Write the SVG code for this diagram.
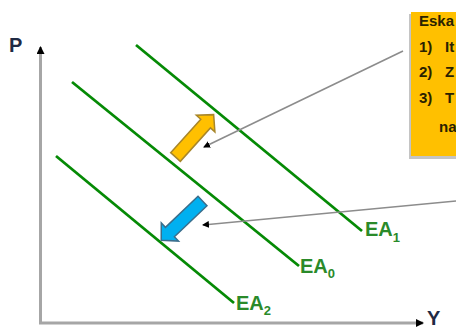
<svg xmlns="http://www.w3.org/2000/svg" width="456" height="329" viewBox="0 0 456 329">
  <style>
    .axis { stroke: #a6a6a6; stroke-width: 3; fill: none; }
    .curve { stroke: #058a05; stroke-width: 2.8; fill: none; }
    .lbl { font-family: "Liberation Sans", Arial, sans-serif; font-weight: bold; fill: #2a8a2a; }
    .ax { font-family: "Liberation Sans", Arial, sans-serif; font-weight: bold; fill: #1f2a44; font-size: 20px; }
    .note { font-family: "Liberation Sans", Arial, sans-serif; font-weight: bold; fill: #2a2200; font-size: 15px; }
    .conn { stroke: #8c8c8c; stroke-width: 1.6; fill: none; }
  </style>
  <defs>
    <marker id="axArrow" markerUnits="userSpaceOnUse" markerWidth="8" markerHeight="8" viewBox="0 0 8 8" refX="7" refY="4" orient="auto">
      <path d="M0,0 L8,4 L0,8 Z" fill="#000"/>
    </marker>
    <marker id="cArrow" markerUnits="userSpaceOnUse" markerWidth="7" markerHeight="7" viewBox="0 0 7 7" refX="6" refY="3.5" orient="auto">
      <path d="M0,0 L7,3.5 L0,7 Z" fill="#000"/>
    </marker>
    <polygon id="blockArrow" points="0,-6.5 45,-6.5 45,-12.5 57,0 45,12.5 45,6.5 0,6.5"/>
  </defs>

  <g id="axes">
    <line class="axis" x1="40.5" y1="323" x2="40.5" y2="47" marker-end="url(#axArrow)"/>
    <line class="axis" x1="39" y1="323" x2="423" y2="323" marker-end="url(#axArrow)"/>
    <text class="ax" x="9" y="52">P</text>
    <text class="ax" x="427" y="325">Y</text>
  </g>

  <g id="EA1">
    <line class="curve" x1="136" y1="45" x2="362" y2="231"/>
    <text class="lbl" x="365" y="236" font-size="20">EA<tspan font-size="13" dy="6">1</tspan></text>
  </g>
  <g id="EA0">
    <line class="curve" x1="72" y1="82" x2="299" y2="266"/>
    <text class="lbl" x="300" y="273" font-size="20">EA<tspan font-size="13" dy="5">0</tspan></text>
  </g>
  <g id="EA2">
    <line class="curve" x1="56" y1="156" x2="234" y2="303"/>
    <text class="lbl" x="236" y="310" font-size="20">EA<tspan font-size="13" dy="5">2</tspan></text>
  </g>

  <g id="arrowUp">
    <use href="#blockArrow" transform="translate(175.5,157) rotate(-48)" fill="#FFC000" stroke="#a8862a" stroke-width="1.5"/>
  </g>
  <g id="arrowDown">
    <use href="#blockArrow" transform="translate(202.5,201) rotate(136.4)" fill="#00B0F0" stroke="#3a6e8c" stroke-width="1.5"/>
  </g>

  <g id="note">
    <rect x="409" y="14" width="50" height="145" fill="#c4c4c4"/>
    <rect x="411" y="12" width="50" height="144" fill="#FFC000"/>
    <text class="note" x="419" y="26">Eska</text>
    <text class="note" x="419" y="52">1)</text>
    <text class="note" x="445" y="52">It</text>
    <text class="note" x="419" y="77">2)</text>
    <text class="note" x="445" y="77">Z</text>
    <text class="note" x="419" y="103">3)</text>
    <text class="note" x="445" y="103">T</text>
    <text class="note" x="439" y="132">na</text>
  </g>

  <g id="connectors">
    <line class="conn" x1="403" y1="51" x2="204" y2="147" marker-end="url(#cArrow)"/>
    <line class="conn" x1="456" y1="201" x2="203" y2="225" marker-end="url(#cArrow)"/>
  </g>
</svg>
